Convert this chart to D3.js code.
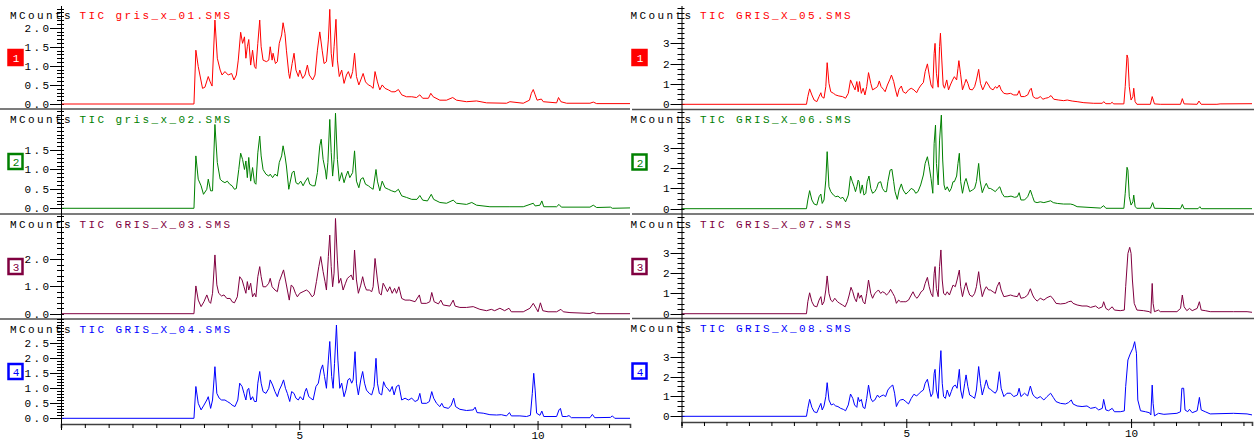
<!DOCTYPE html>
<html>
<head>
<meta charset="utf-8">
<script src="https://cdn.jsdelivr.net/npm/d3@7"></script>
<style>
  body { margin: 0; background: #fff; }
  svg { display: block; }
  text { font-family: "Liberation Mono", "DejaVu Sans Mono", monospace; font-size: 11px; letter-spacing: 2.4px; }
</style>
</head>
<body>
<svg id="chart" width="1254" height="442"></svg>
<script>
// ---- data: retention time (min) vs TIC (MCounts) ----
var gris01 = [[0,0],[2.79,0],[2.83,1.41],[2.88,0.98],[2.97,0.41],[3.02,0.44],[3.09,0.72],[3.13,0.58],[3.17,0.47],[3.23,2.2],[3.28,1.2],[3.34,0.89],[3.38,0.76],[3.44,0.85],[3.51,0.76],[3.58,0.80],[3.63,0.63],[3.68,0.76],[3.72,1.15],[3.77,1.88],[3.81,1.59],[3.85,1.76],[3.88,1.20],[3.91,1.50],[3.94,1.69],[3.98,1.02],[4.02,1.41],[4.06,0.98],[4.09,0.93],[4.13,1.59],[4.17,2.20],[4.20,1.50],[4.24,1.15],[4.31,1.11],[4.36,1.15],[4.39,1.50],[4.43,1.15],[4.45,1.33],[4.50,1.06],[4.54,1.11],[4.58,1.59],[4.63,1.81],[4.66,2.13],[4.70,1.85],[4.73,1.41],[4.78,0.80],[4.80,0.67],[4.85,1.06],[4.89,1.33],[4.93,0.89],[4.98,0.72],[5.01,0.89],[5.07,0.67],[5.12,0.76],[5.17,1.02],[5.21,0.76],[5.28,0.63],[5.33,0.76],[5.38,1.41],[5.43,1.89],[5.48,1.41],[5.52,1.06],[5.57,1.11],[5.61,1.68],[5.64,2.48],[5.67,1.33],[5.70,0.98],[5.73,1.50],[5.77,2.22],[5.80,1.15],[5.84,0.72],[5.89,0.89],[5.94,0.54],[5.99,0.76],[6.03,0.85],[6.08,0.67],[6.12,0.85],[6.16,1.33],[6.20,0.72],[6.25,0.50],[6.29,0.63],[6.34,0.80],[6.39,0.58],[6.45,0.50],[6.50,0.47],[6.55,0.41],[6.59,0.85],[6.64,0.58],[6.69,0.37],[6.74,0.50],[6.80,0.41],[6.87,0.37],[6.94,0.32],[7.01,0.32],[7.08,0.38],[7.15,0.24],[7.25,0.19],[7.36,0.19],[7.46,0.17],[7.53,0.24],[7.59,0.15],[7.71,0.15],[7.76,0.28],[7.81,0.19],[7.95,0.10],[8.09,0.10],[8.22,0.17],[8.30,0.10],[8.51,0.06],[8.72,0.08],[8.93,0.03],[9.35,0.02],[9.42,0.06],[9.70,0.02],[9.83,0.10],[9.87,0.28],[9.91,0.38],[9.95,0.24],[9.99,0.10],[10.08,0.13],[10.12,0.06],[10.40,0.03],[10.44,0.17],[10.49,0.06],[10.61,0.02],[11.10,0.02],[11.17,0.05],[11.24,0.01],[11.94,0.01]];

var gris02 = [[0,0],[2.79,0],[2.83,1.35],[2.88,0.75],[2.94,0.58],[2.99,0.36],[3.06,0.49],[3.09,0.75],[3.14,0.45],[3.18,0.45],[3.23,2.16],[3.28,1.18],[3.34,0.75],[3.38,0.70],[3.44,0.66],[3.49,0.70],[3.54,0.62],[3.59,0.58],[3.64,0.49],[3.68,0.51],[3.73,1.0],[3.77,1.42],[3.81,1.26],[3.85,1.0],[3.88,1.22],[3.91,0.79],[3.94,1.31],[3.98,0.70],[4.02,1.05],[4.06,0.66],[4.09,0.62],[4.13,1.43],[4.17,1.86],[4.20,1.35],[4.24,1.0],[4.30,0.88],[4.36,0.83],[4.39,0.88],[4.44,0.79],[4.49,0.88],[4.54,0.83],[4.58,1.18],[4.63,1.35],[4.66,1.61],[4.70,1.35],[4.73,1.09],[4.78,0.49],[4.80,0.62],[4.85,0.92],[4.89,0.96],[4.93,0.66],[4.98,0.62],[5.03,0.70],[5.08,0.58],[5.13,0.70],[5.18,0.79],[5.22,0.62],[5.28,0.58],[5.33,0.58],[5.38,0.92],[5.43,1.61],[5.46,1.78],[5.50,1.26],[5.55,0.96],[5.57,0.75],[5.60,1.18],[5.64,2.29],[5.67,1.44],[5.70,0.83],[5.73,1.26],[5.76,2.45],[5.80,1.26],[5.84,0.70],[5.89,0.92],[5.94,0.66],[5.98,0.83],[6.02,0.96],[6.06,0.79],[6.12,0.92],[6.16,1.48],[6.20,0.70],[6.25,0.53],[6.29,0.75],[6.34,0.79],[6.39,0.62],[6.45,0.58],[6.50,0.53],[6.55,0.49],[6.61,1.0],[6.64,0.70],[6.69,0.45],[6.74,0.70],[6.80,0.53],[6.87,0.49],[6.94,0.45],[7.01,0.42],[7.08,0.49],[7.15,0.32],[7.25,0.28],[7.36,0.23],[7.47,0.23],[7.53,0.33],[7.59,0.21],[7.69,0.19],[7.77,0.36],[7.82,0.23],[7.95,0.15],[8.09,0.13],[8.23,0.21],[8.30,0.13],[8.51,0.10],[8.62,0.15],[8.72,0.08],[9.00,0.04],[9.42,0.04],[9.70,0.04],[9.91,0.13],[9.95,0.06],[10.05,0.08],[10.09,0.19],[10.13,0.04],[10.40,0.04],[10.45,0.10],[10.50,0.03],[11.10,0.03],[11.17,0.08],[11.24,0.02],[11.53,0.03],[11.57,0.0],[11.94,0.01]];

var gris03 = [[0,0],[2.79,0],[2.83,1.02],[2.88,0.50],[2.94,0.26],[3.00,0.44],[3.06,0.69],[3.11,0.44],[3.14,0.38],[3.18,0.75],[3.23,2.16],[3.27,1.06],[3.31,0.75],[3.37,0.65],[3.42,0.69],[3.48,0.56],[3.55,0.56],[3.59,0.44],[3.64,0.40],[3.70,0.62],[3.75,1.36],[3.80,1.24],[3.84,0.99],[3.88,0.75],[3.91,1.18],[3.94,0.87],[3.98,1.12],[4.02,0.62],[4.06,0.75],[4.09,0.62],[4.13,1.36],[4.17,1.73],[4.20,1.36],[4.24,0.99],[4.30,0.99],[4.36,1.12],[4.39,1.30],[4.43,0.99],[4.49,0.87],[4.54,0.81],[4.58,1.18],[4.63,1.42],[4.67,1.61],[4.71,1.24],[4.75,0.87],[4.79,0.50],[4.83,1.05],[4.87,0.99],[4.92,0.75],[4.96,0.62],[5.01,0.75],[5.08,0.81],[5.15,0.87],[5.20,0.81],[5.27,0.62],[5.31,0.69],[5.36,1.18],[5.41,1.73],[5.45,2.10],[5.50,1.55],[5.54,1.18],[5.57,0.87],[5.61,2.10],[5.64,2.89],[5.67,1.73],[5.70,0.99],[5.73,1.49],[5.76,3.50],[5.80,1.97],[5.83,1.12],[5.87,1.30],[5.92,0.87],[5.97,1.12],[6.01,1.30],[6.05,1.36],[6.09,1.42],[6.13,1.24],[6.16,2.34],[6.20,1.24],[6.24,0.75],[6.29,1.05],[6.33,1.36],[6.37,1.05],[6.41,0.87],[6.47,0.87],[6.52,0.81],[6.55,0.99],[6.59,2.03],[6.64,1.24],[6.68,0.75],[6.72,0.69],[6.76,1.12],[6.80,0.99],[6.85,0.81],[6.90,0.99],[6.95,0.75],[7.00,0.93],[7.04,0.75],[7.09,0.99],[7.15,0.56],[7.22,0.50],[7.32,0.50],[7.43,0.44],[7.52,0.69],[7.56,0.38],[7.67,0.38],[7.74,0.44],[7.78,0.78],[7.83,0.44],[7.92,0.36],[7.97,0.50],[8.02,0.32],[8.16,0.28],[8.23,0.50],[8.27,0.28],[8.37,0.23],[8.51,0.23],[8.65,0.26],[8.79,0.16],[8.93,0.11],[9.03,0.16],[9.10,0.11],[9.21,0.20],[9.31,0.11],[9.40,0.20],[9.45,0.07],[9.70,0.07],[9.84,0.20],[9.91,0.38],[9.97,0.20],[10.01,0.07],[10.06,0.40],[10.11,0.11],[10.22,0.07],[10.40,0.07],[10.49,0.16],[10.54,0.07],[10.68,0.04],[11.10,0.01],[11.17,0.05],[11.24,0],[11.94,0]];

var gris04 = [[0,0],[2.79,0],[2.83,1.06],[2.88,0.50],[2.94,0.28],[3.00,0.44],[3.06,0.61],[3.09,0.72],[3.14,0.33],[3.18,0.61],[3.23,1.72],[3.27,0.83],[3.32,0.67],[3.37,0.61],[3.44,0.61],[3.49,0.56],[3.55,0.50],[3.59,0.44],[3.65,0.39],[3.71,0.61],[3.75,1.17],[3.80,1.06],[3.84,0.83],[3.88,0.61],[3.91,0.94],[3.94,1.0],[3.98,0.61],[4.02,0.72],[4.06,0.56],[4.10,0.56],[4.13,1.17],[4.17,1.56],[4.20,1.17],[4.24,0.89],[4.30,0.83],[4.36,1.0],[4.39,1.28],[4.44,1.11],[4.49,0.89],[4.54,0.72],[4.58,0.94],[4.63,1.11],[4.67,1.28],[4.71,1.0],[4.75,0.83],[4.80,0.56],[4.84,0.89],[4.89,0.83],[4.93,0.67],[4.98,0.61],[5.02,0.72],[5.08,0.61],[5.12,0.89],[5.15,1.0],[5.20,0.72],[5.24,0.67],[5.29,0.61],[5.35,1.06],[5.40,1.17],[5.45,1.61],[5.49,1.78],[5.53,1.39],[5.57,1.0],[5.61,1.94],[5.64,2.56],[5.68,1.39],[5.71,1.0],[5.74,1.83],[5.78,3.11],[5.81,1.94],[5.85,1.0],[5.89,1.17],[5.94,0.72],[5.98,0.94],[6.02,1.28],[6.06,1.33],[6.10,1.17],[6.13,1.28],[6.17,2.22],[6.20,1.17],[6.24,0.78],[6.29,1.28],[6.33,1.56],[6.37,1.17],[6.41,0.94],[6.47,0.83],[6.52,0.78],[6.57,1.06],[6.61,2.0],[6.64,1.17],[6.68,0.83],[6.73,0.78],[6.77,1.22],[6.81,1.06],[6.85,1.0],[6.90,0.89],[6.95,1.06],[6.99,0.78],[7.04,1.06],[7.09,1.11],[7.15,0.61],[7.22,0.67],[7.29,0.61],[7.36,0.67],[7.43,0.56],[7.49,0.61],[7.53,0.83],[7.57,0.50],[7.67,0.50],[7.73,0.56],[7.78,0.89],[7.82,0.67],[7.88,0.50],[7.95,0.39],[7.99,0.50],[8.03,0.37],[8.13,0.33],[8.19,0.44],[8.24,0.67],[8.28,0.39],[8.37,0.30],[8.51,0.26],[8.65,0.28],[8.69,0.37],[8.73,0.19],[8.86,0.17],[9.00,0.12],[9.14,0.11],[9.24,0.12],[9.35,0.08],[9.41,0.19],[9.45,0.08],[9.63,0.08],[9.77,0.06],[9.85,0.10],[9.89,0.83],[9.92,1.50],[9.95,0.94],[9.98,0.17],[10.05,0.10],[10.09,0.24],[10.13,0.06],[10.40,0.06],[10.45,0.28],[10.48,0.33],[10.52,0.06],[10.61,0.06],[10.66,0.09],[10.71,0.02],[11.10,0.02],[11.15,0.13],[11.20,0.02],[11.53,0.03],[11.57,0.08],[11.62,0],[11.94,0]];

var gris05 = [[0,0],[2.78,0],[2.81,0.38],[2.85,0.76],[2.90,0.46],[2.95,0.21],[3.01,0.13],[3.06,0.38],[3.10,0.57],[3.12,0.38],[3.17,0.30],[3.21,0.87],[3.24,2.05],[3.28,1.03],[3.32,0.62],[3.38,0.54],[3.43,0.46],[3.50,0.41],[3.58,0.38],[3.65,0.30],[3.71,0.54],[3.76,1.20],[3.81,0.95],[3.86,0.71],[3.90,1.12],[3.93,0.62],[3.96,1.12],[4.00,0.54],[4.04,0.79],[4.08,0.46],[4.12,0.87],[4.16,1.56],[4.21,1.03],[4.25,0.71],[4.31,0.79],[4.36,0.87],[4.40,1.15],[4.44,0.87],[4.49,0.74],[4.53,0.62],[4.58,0.95],[4.63,1.20],[4.67,1.44],[4.72,1.12],[4.76,0.71],[4.80,0.38],[4.84,0.74],[4.89,0.90],[4.93,0.62],[4.99,0.54],[5.05,0.71],[5.11,0.79],[5.17,0.71],[5.23,0.57],[5.28,0.79],[5.33,0.95],[5.38,1.07],[5.42,1.61],[5.47,1.99],[5.51,1.45],[5.55,0.95],[5.59,0.79],[5.62,2.51],[5.64,3.00],[5.67,1.53],[5.71,0.84],[5.74,2.84],[5.76,3.50],[5.79,2.18],[5.82,0.95],[5.85,0.79],[5.90,1.20],[5.94,0.71],[5.98,0.95],[6.03,1.20],[6.07,1.36],[6.12,1.20],[6.15,1.77],[6.17,2.15],[6.21,1.45],[6.25,0.71],[6.30,1.03],[6.33,1.23],[6.37,1.03],[6.41,0.74],[6.47,0.71],[6.52,0.87],[6.56,1.20],[6.61,1.72],[6.65,1.03],[6.70,0.71],[6.74,0.90],[6.78,1.12],[6.83,0.95],[6.87,0.79],[6.93,0.71],[6.98,0.87],[7.02,0.79],[7.07,0.95],[7.11,0.71],[7.17,0.54],[7.24,0.51],[7.32,0.54],[7.39,0.46],[7.47,0.46],[7.51,0.67],[7.55,0.38],[7.63,0.38],[7.70,0.46],[7.75,0.71],[7.78,0.79],[7.82,0.38],[7.87,0.30],[7.93,0.30],[7.98,0.38],[8.04,0.25],[8.10,0.30],[8.16,0.33],[8.22,0.43],[8.28,0.25],[8.39,0.21],[8.50,0.18],[8.58,0.21],[8.69,0.16],[8.80,0.13],[8.95,0.08],[9.17,0.05],[9.36,0.05],[9.39,0.13],[9.44,0.03],[9.54,0.03],[9.58,0.10],[9.61,0.02],[9.84,0.02],[9.87,0.87],[9.91,2.43],[9.93,2.27],[9.96,0.87],[10.00,0.21],[10.04,0.38],[10.06,0.79],[10.09,0.13],[10.13,0],[10.43,0],[10.47,0.38],[10.52,0.02],[10.65,0],[11.10,0],[11.14,0.28],[11.18,0.02],[11.47,0],[11.51,0.16],[11.56,0],[11.91,0],[11.98,0.02],[12.69,0.03]];

var gris06 = [[0,0],[2.78,0],[2.81,0.43],[2.85,0.89],[2.90,0.43],[2.95,0.23],[3.01,0.18],[3.06,0.59],[3.10,0.72],[3.13,0.26],[3.17,0.43],[3.21,1.41],[3.24,2.81],[3.28,1.08],[3.32,0.84],[3.38,0.67],[3.43,0.59],[3.48,0.62],[3.54,0.51],[3.59,0.56],[3.65,0.34],[3.71,0.67],[3.76,1.61],[3.80,1.33],[3.84,1.08],[3.87,0.84],[3.90,1.08],[3.93,1.41],[3.95,1.33],[3.98,0.76],[4.02,1.17],[4.06,0.67],[4.10,0.76],[4.13,1.33],[4.17,1.61],[4.21,1.0],[4.25,0.76],[4.30,0.84],[4.34,1.0],[4.38,1.28],[4.43,1.33],[4.47,1.0],[4.52,0.84],[4.56,0.84],[4.59,1.33],[4.64,1.90],[4.68,1.94],[4.72,1.33],[4.75,0.84],[4.80,0.46],[4.84,0.92],[4.89,1.22],[4.93,0.92],[4.99,0.72],[5.05,0.84],[5.11,1.0],[5.17,0.92],[5.21,0.76],[5.26,0.84],[5.32,1.17],[5.38,1.66],[5.42,2.23],[5.47,2.56],[5.51,2.07],[5.55,1.49],[5.59,0.76],[5.62,3.22],[5.65,4.12],[5.67,2.23],[5.71,1.17],[5.74,3.38],[5.78,4.61],[5.81,2.40],[5.84,1.17],[5.87,0.92],[5.91,1.08],[5.96,0.84],[6.00,1.0],[6.04,1.33],[6.07,1.33],[6.12,1.61],[6.15,2.23],[6.18,2.73],[6.21,1.33],[6.25,0.76],[6.30,1.33],[6.33,1.49],[6.37,1.17],[6.41,0.84],[6.47,0.92],[6.52,1.0],[6.56,1.33],[6.61,2.23],[6.64,1.41],[6.69,0.79],[6.74,1.08],[6.78,1.25],[6.83,1.0],[6.87,1.0],[6.93,0.92],[6.98,0.84],[7.04,1.0],[7.08,1.08],[7.13,0.76],[7.18,0.59],[7.26,0.59],[7.33,0.62],[7.41,0.56],[7.47,0.59],[7.51,0.79],[7.55,0.43],[7.63,0.43],[7.70,0.59],[7.76,0.92],[7.81,0.59],[7.85,0.34],[7.91,0.30],[7.98,0.34],[8.06,0.30],[8.13,0.34],[8.21,0.39],[8.27,0.30],[8.36,0.26],[8.50,0.23],[8.65,0.23],[8.71,0.20],[8.80,0.10],[9.02,0.07],[9.32,0.03],[9.39,0.15],[9.44,0.02],[9.84,0.02],[9.87,0.76],[9.91,2.04],[9.93,1.90],[9.96,0.59],[10.00,0.18],[10.04,0.34],[10.06,0.67],[10.09,0.10],[10.13,0.02],[10.43,0.02],[10.48,0.30],[10.52,0.02],[11.10,0],[11.14,0.21],[11.18,0],[11.49,0],[11.53,0.10],[11.56,0],[12.69,0]];

var gris07 = [[0,0],[2.78,0],[2.81,0.59],[2.85,1.03],[2.90,0.59],[2.95,0.38],[3.01,0.34],[3.06,0.67],[3.10,0.84],[3.13,0.43],[3.17,0.59],[3.21,1.17],[3.24,1.86],[3.28,1.0],[3.32,0.67],[3.36,0.59],[3.41,0.76],[3.47,0.59],[3.52,0.51],[3.58,0.43],[3.64,0.34],[3.69,0.59],[3.73,0.92],[3.77,1.30],[3.81,1.08],[3.85,0.76],[3.89,0.59],[3.93,1.03],[3.96,0.76],[4.00,0.92],[4.04,0.59],[4.08,0.48],[4.12,1.0],[4.16,1.66],[4.21,1.0],[4.25,0.76],[4.30,1.0],[4.34,1.08],[4.38,1.17],[4.43,1.0],[4.47,1.08],[4.52,1.03],[4.56,0.92],[4.61,1.03],[4.65,1.20],[4.70,1.0],[4.74,0.84],[4.78,0.51],[4.83,0.67],[4.87,0.59],[4.93,0.59],[4.99,0.59],[5.05,0.67],[5.11,0.92],[5.15,1.08],[5.20,0.84],[5.24,0.76],[5.29,0.92],[5.33,1.08],[5.38,1.17],[5.42,1.49],[5.47,1.79],[5.51,1.33],[5.55,1.0],[5.59,0.84],[5.62,1.99],[5.64,2.32],[5.67,1.25],[5.71,0.84],[5.74,2.32],[5.77,3.14],[5.80,1.66],[5.83,1.0],[5.87,0.92],[5.91,1.08],[5.96,0.92],[6.00,1.17],[6.04,1.41],[6.09,1.33],[6.13,1.66],[6.18,2.15],[6.21,1.33],[6.25,0.84],[6.30,1.33],[6.33,1.53],[6.37,1.17],[6.41,0.92],[6.47,0.84],[6.52,1.0],[6.56,1.33],[6.61,2.07],[6.64,1.49],[6.69,0.84],[6.74,1.17],[6.78,1.33],[6.83,1.17],[6.87,1.17],[6.93,1.08],[6.98,1.0],[7.02,1.33],[7.07,1.56],[7.11,1.17],[7.17,0.84],[7.24,0.87],[7.32,0.92],[7.39,0.87],[7.47,0.84],[7.51,1.03],[7.55,0.76],[7.63,0.80],[7.70,0.92],[7.76,1.23],[7.81,0.92],[7.85,0.76],[7.91,0.62],[7.98,0.76],[8.06,0.67],[8.13,0.79],[8.21,0.87],[8.27,0.72],[8.33,0.51],[8.43,0.48],[8.54,0.51],[8.61,0.59],[8.67,0.62],[8.71,0.51],[8.80,0.43],[8.91,0.38],[9.02,0.38],[9.10,0.31],[9.21,0.38],[9.28,0.26],[9.36,0.34],[9.39,0.59],[9.44,0.26],[9.50,0.18],[9.58,0.34],[9.63,0.18],[9.76,0.15],[9.85,0.18],[9.88,1.33],[9.93,2.97],[9.97,3.27],[10.00,2.97],[10.03,1.66],[10.07,0.51],[10.13,0.18],[10.28,0.15],[10.41,0.10],[10.44,0.02],[10.47,1.49],[10.49,0.51],[10.52,0.10],[10.61,0.18],[10.65,0.10],[11.02,0.10],[11.10,0.26],[11.14,0.92],[11.18,0.34],[11.24,0.15],[11.30,0.26],[11.36,0.15],[11.47,0.26],[11.52,0.59],[11.56,0.18],[11.65,0.15],[11.76,0.10],[12.28,0.10],[12.58,0.10],[12.69,0.07]];

var gris08 = [[0,0],[2.78,0],[2.81,0.40],[2.85,0.85],[2.90,0.45],[2.95,0.23],[3.01,0.18],[3.06,0.45],[3.10,0.65],[3.13,0.32],[3.17,0.52],[3.21,0.99],[3.24,1.69],[3.28,0.82],[3.33,0.57],[3.38,0.62],[3.43,0.52],[3.48,0.49],[3.54,0.40],[3.60,0.35],[3.65,0.28],[3.71,0.57],[3.76,1.12],[3.81,0.90],[3.85,0.57],[3.90,0.45],[3.93,0.95],[3.96,0.74],[4.00,0.85],[4.04,0.45],[4.08,0.39],[4.12,0.90],[4.16,1.57],[4.21,0.90],[4.25,0.74],[4.30,0.82],[4.36,1.07],[4.40,0.95],[4.44,1.02],[4.49,1.07],[4.54,0.99],[4.59,1.32],[4.65,1.49],[4.70,1.57],[4.74,1.16],[4.78,0.49],[4.83,0.74],[4.87,0.82],[4.93,0.85],[4.99,0.74],[5.05,0.62],[5.11,0.90],[5.17,1.11],[5.23,1.02],[5.29,1.16],[5.33,1.24],[5.38,1.32],[5.42,1.66],[5.47,1.86],[5.51,1.41],[5.55,0.99],[5.59,1.16],[5.62,2.16],[5.64,2.36],[5.67,1.32],[5.71,0.90],[5.74,2.33],[5.77,3.30],[5.80,1.66],[5.83,0.99],[5.87,0.90],[5.91,1.32],[5.96,0.99],[6.00,1.24],[6.04,1.49],[6.09,1.57],[6.13,1.41],[6.18,2.36],[6.21,1.32],[6.25,0.90],[6.30,1.66],[6.33,2.08],[6.37,1.49],[6.41,1.07],[6.47,0.99],[6.52,0.90],[6.56,1.32],[6.61,2.50],[6.65,1.66],[6.69,1.07],[6.74,1.49],[6.78,1.83],[6.83,1.41],[6.87,1.36],[6.93,1.24],[6.98,1.16],[7.02,1.32],[7.07,2.24],[7.11,1.41],[7.17,0.99],[7.24,1.16],[7.32,1.16],[7.39,0.99],[7.47,1.07],[7.51,1.41],[7.55,0.99],[7.63,1.16],[7.70,1.02],[7.76,1.52],[7.81,1.12],[7.85,0.99],[7.91,0.90],[7.98,0.99],[8.06,0.82],[8.13,0.99],[8.21,1.16],[8.27,0.95],[8.33,0.74],[8.43,0.65],[8.54,0.62],[8.61,0.69],[8.67,0.82],[8.71,0.62],[8.80,0.52],[8.91,0.49],[9.02,0.52],[9.10,0.40],[9.21,0.45],[9.28,0.32],[9.36,0.40],[9.39,0.85],[9.44,0.32],[9.50,0.28],[9.58,0.40],[9.63,0.23],[9.76,0.23],[9.85,0.27],[9.88,1.49],[9.93,2.83],[9.98,3.13],[10.04,3.42],[10.08,3.75],[10.12,3.17],[10.15,0.82],[10.21,0.28],[10.32,0.23],[10.41,0.18],[10.44,0.07],[10.47,1.57],[10.49,0.65],[10.52,0.02],[10.61,0.15],[10.73,0.10],[11.02,0.15],[11.10,0.23],[11.13,1.41],[11.17,1.41],[11.20,0.32],[11.26,0.23],[11.30,0.35],[11.36,0.18],[11.47,0.28],[11.52,0.95],[11.56,0.32],[11.65,0.23],[11.76,0.12],[12.28,0.15],[12.58,0.12],[12.69,0.07]];

var leftSeries = [gris01, gris02, gris03, gris04];
var rightSeries = [gris05, gris06, gris07, gris08];
var leftNames = ["TIC gris_x_01.SMS", "TIC gris_x_02.SMS", "TIC GRIS_X_03.SMS", "TIC GRIS_X_04.SMS"];
var rightNames = ["TIC GRIS_X_05.SMS", "TIC GRIS_X_06.SMS", "TIC GRIS_X_07.SMS", "TIC GRIS_X_08.SMS"];
var traceColors = ["#ff0000", "#008000", "#800040", "#0000ff"];
var badgeLabels = ["1", "2", "3", "4"];
var yUnit = "MCounts";

// y axis ranges [min, max] per panel and the labelled ticks
var leftYRanges = [[-0.131, 2.595], [-0.147, 2.559], [-0.195, 3.665], [-0.19, 3.31]];
var rightYRanges = [[-0.256, 4.89], [-0.261, 4.887], [-0.236, 4.911], [-0.286, 4.915]];
var leftYLabels = [[0, 0.5, 1.0, 1.5, 2.0], [0, 0.5, 1.0, 1.5], [0, 1.0, 2.0], [0, 0.5, 1.0, 1.5, 2.0, 2.5]];
var rightYLabels = [[0, 1, 2, 3], [0, 1, 2, 3], [0, 1, 2, 3], [0, 1, 2, 3]];
var leftMinorStep = [0.1, 0.1, 0.2, 0.1];
var rightMinorStep = [0.25, 0.25, 0.25, 0.25];
var xLabels = [5, 10];


var svg = d3.select("#chart");

var columns = [
    {axisX: 61, xEnd: 630, sepX0: 0, sepX1: 630, tMax: 11.94, axisY: 424,
     rows: [[5, 109], [109, 214], [214, 319], [319, 424]],
     series: leftSeries, names: leftNames, yRanges: leftYRanges, yLabels: leftYLabels,
     minor: leftMinorStep, fmt: d3.format(".1f"), badgeDx: -53.5},
    {axisX: 681.5, xEnd: 1252, sepX0: 632, sepX1: 1254, tMax: 12.69, axisY: 422,
     rows: [[5, 109.5], [109.5, 214], [214, 318.5], [318.5, 422]],
     series: rightSeries, names: rightNames, yRanges: rightYRanges, yLabels: rightYLabels,
     minor: rightMinorStep, fmt: d3.format("d"), badgeDx: -50}
];

columns.forEach(function(col) {
    var x = d3.scaleLinear().domain([0, col.tMax]).range([col.axisX, col.xEnd]);
    var g = svg.append("g");

    col.rows.forEach(function(row, i) {
        var [top, bottom] = row;
        var y = d3.scaleLinear().domain(col.yRanges[i]).range([bottom, top]);
        var color = traceColors[i];

        // separator under each panel except the last
        if (i < 3) {
            g.append("line")
                .attr("x1", col.sepX0).attr("x2", col.sepX1)
                .attr("y1", bottom).attr("y2", bottom)
                .attr("stroke", "#505050").attr("stroke-width", 1.6);
        }

        // minor y ticks, crossing the axis
        var minorTicks = d3.range(0, col.yRanges[i][1], col.minor[i]);
        g.selectAll(null).data(minorTicks).enter().append("line")
            .attr("x1", col.axisX - 4).attr("x2", col.axisX + 3)
            .attr("y1", d => Math.round(y(d)) + 0.5).attr("y2", d => Math.round(y(d)) + 0.5)
            .attr("stroke", "#000").attr("stroke-width", 1);

        // labelled y ticks
        var lab = g.selectAll(null).data(col.yLabels[i]).enter().append("g")
            .attr("transform", d => `translate(0,${Math.round(y(d)) + 0.5})`);
        lab.append("line")
            .attr("x1", col.axisX - 11).attr("x2", col.axisX)
            .attr("stroke", "#000");
        lab.append("text")
            .attr("x", col.axisX - 9.5)
            .attr("dy", "0.35em")
            .attr("text-anchor", "end")
            .attr("fill", "#000")
            .text(col.fmt);

        // trace
        var line = d3.line().x(d => x(d[0])).y(d => y(d[1]));
        g.append("path")
            .datum(col.series[i])
            .attr("d", line)
            .attr("fill", "none")
            .attr("stroke", color)
            .attr("stroke-width", 1);

        // title
        var title = g.append("text")
            .attr("x", col.axisX - 51)
            .attr("y", top + 13.8);
        title.append("tspan").attr("fill", "#000").text(yUnit);
        title.append("tspan").attr("x", col.axisX + 18.5).attr("fill", color).text(col.names[i]);

        // trace number badge
        var bx = col.axisX + col.badgeDx, by = top + 44;
        g.append("rect")
            .attr("x", bx + 1).attr("y", by + 1)
            .attr("width", 14).attr("height", 15)
            .attr("fill", i == 0 ? color : "#fff")
            .attr("stroke", color).attr("stroke-width", 2.5);
        g.append("text")
            .attr("x", bx + 8.5).attr("y", by + 13)
            .attr("text-anchor", "middle")
            .style("letter-spacing", "0px")
            .attr("fill", i == 0 ? "#fff" : color)
            .text(badgeLabels[i]);
    });

    // vertical axis line
    g.append("line")
        .attr("x1", col.axisX + 0.5).attr("x2", col.axisX + 0.5)
        .attr("y1", 6).attr("y2", col.axisY + 6)
        .attr("stroke", "#000");

    // time axis
    var xAxis = d3.axisBottom(x)
        .tickValues(d3.range(0, col.tMax, 0.5))
        .tickSize(4)
        .tickFormat(d => xLabels.includes(d) ? d : "");
    var ax = g.append("g")
        .attr("transform", `translate(0,${col.axisY})`)
        .call(xAxis);
    ax.attr("font-family", null).attr("font-size", null);
    ax.select(".domain").attr("stroke", "#404040").attr("stroke-width", 1.6);
    ax.selectAll(".tick line")
        .attr("y1", d => xLabels.includes(d) ? -3 : 0)
        .attr("y2", d => xLabels.includes(d) ? 6 : 4);
    ax.selectAll(".tick text")
        .attr("y", 14.5)
        .attr("dy", null)
        .style("letter-spacing", "0px")
        .attr("fill", "#000");
});
</script>
</body>
</html>
